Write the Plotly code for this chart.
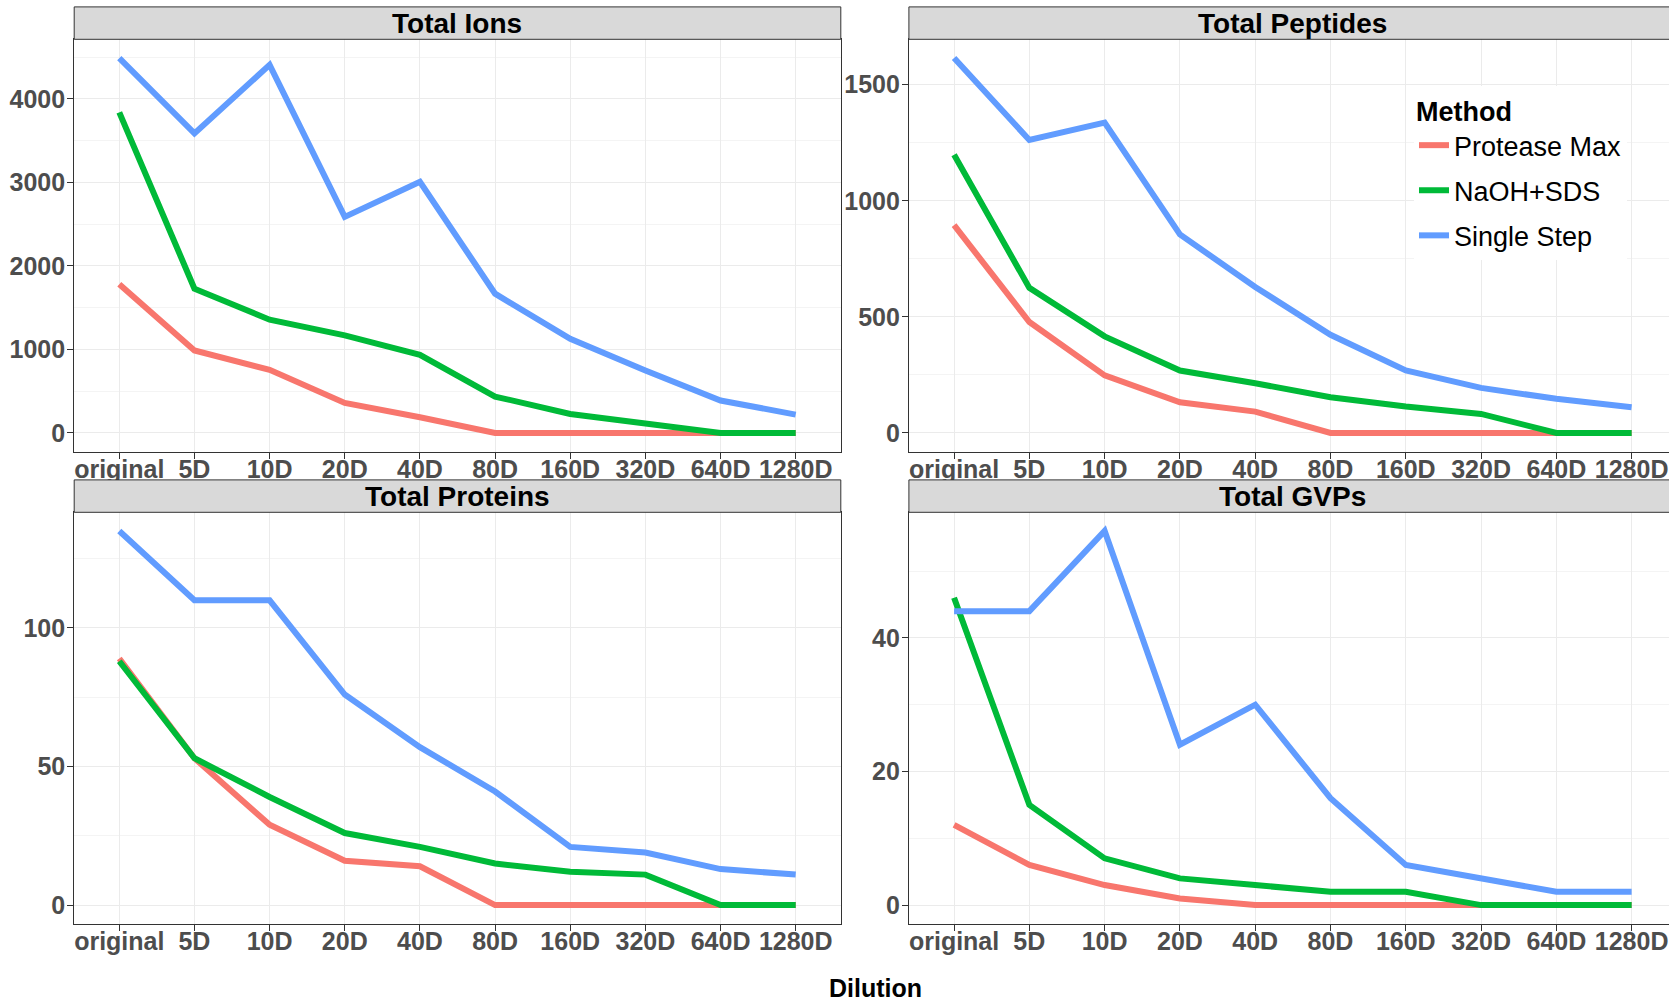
import plotly.graph_objects as go

W, H = 1669, 1001

dilutions = ["original", "5D", "10D", "20D", "40D", "80D", "160D", "320D", "640D", "1280D"]
methods = ["Protease Max", "NaOH+SDS", "Single Step"]
colors = ["#F8766D", "#00BA38", "#619CFF"]

ions_protease = [1780, 988, 756, 360, 188, 0, 0, 0, 0, 0]
ions_naoh = [3840, 1728, 1356, 1168, 936, 436, 228, 116, 0, 0]
ions_single = [4490, 3588, 4408, 2588, 3008, 1668, 1128, 748, 388, 220]

pep_protease = [895, 478, 248, 132, 92, 0, 0, 0, 0, 0]
pep_naoh = [1198, 625, 416, 269, 214, 154, 114, 82, 0, 0]
pep_single = [1615, 1262, 1337, 855, 629, 423, 269, 194, 147, 111]

prot_protease = [89, 53, 29, 16, 14, 0, 0, 0, 0, 0]
prot_naoh = [88, 53, 39, 26, 21, 15, 12, 11, 0, 0]
prot_single = [135, 110, 110, 76, 57, 41, 21, 19, 13, 11]

gvp_protease = [12, 6, 3, 1, 0, 0, 0, 0, 0, 0]
gvp_naoh = [46, 15, 7, 4, 3, 2, 2, 0, 0, 0]
gvp_single = [44, 44, 56, 24, 30, 16, 6, 4, 2, 2]

panel_titles = ["Total Ions", "Total Peptides", "Total Proteins", "Total GVPs"]
panel_data = [
    [ions_protease, ions_naoh, ions_single],
    [pep_protease, pep_naoh, pep_single],
    [prot_protease, prot_naoh, prot_single],
    [gvp_protease, gvp_naoh, gvp_single],
]
major_dtick = [1000, 500, 50, 20]

FONT = "Liberation Sans, Arial, sans-serif"

# panel geometry in pixels (left, right, top, bottom); right panels run past the page edge
left_x = (74.2, 840.8)
right_x = (908.9, 1676.8)
top_y = (39.3, 451.7)
bot_y = (512.3, 923.8)
strip_h = 32.4
panels = [(left_x, top_y), (right_x, top_y), (left_x, bot_y), (right_x, bot_y)]

fig = go.Figure()

for i, (series, title) in enumerate(zip(panel_data, panel_titles)):
    ax = "" if i == 0 else str(i + 1)
    for m, vals, col in zip(methods, series, colors):
        fig.add_trace(go.Scatter(
            x=dilutions, y=vals, mode="lines", name=m,
            line=dict(color=col, width=6),
            xaxis="x" + ax, yaxis="y" + ax,
            legendgroup=m, showlegend=(i == 0),
        ))

layout = dict(
    width=W, height=H,
    margin=dict(l=0, r=0, t=0, b=0),
    paper_bgcolor="white", plot_bgcolor="white",
    font=dict(family=FONT, color="#000000"),
    shapes=[], annotations=[],
)

TICKFONT = dict(family=FONT, size=25, color="#4D4D4D", weight="bold")

for i, ((xs, ys), series) in enumerate(zip(panels, panel_data)):
    ax = "" if i == 0 else str(i + 1)
    x0 = xs[0] / W
    x1 = min(xs[1], W) / W
    step = (xs[1] - xs[0]) / 10.2
    xmax = 9 + (min(xs[1], W) - (xs[0] + 0.6 * step + 9 * step)) / step
    allv = [v for s in series for v in s]
    lo, hi = min(allv), max(allv)
    span = hi - lo
    yr = [lo - 0.05 * span, hi + 0.05 * span]
    y0 = 1 - ys[1] / H
    y1 = 1 - ys[0] / H
    is_right = i in (1, 3)
    layout["xaxis" + ax] = dict(
        domain=[x0, x1], anchor="y" + ax, type="category",
        categoryorder="array", categoryarray=dilutions,
        range=[-0.6, xmax], showgrid=True, gridcolor="#EBEBEB", gridwidth=1,
        ticks="outside", ticklen=6, tickcolor="#333333", tickwidth=1,
        ticklabelstandoff=-11,
        showline=True, linecolor="#333333", linewidth=1, mirror=True,
        tickfont=TICKFONT,
        automargin=False, fixedrange=True, zeroline=False,
    )
    layout["yaxis" + ax] = dict(
        domain=[y0, y1], anchor="x" + ax, range=yr,
        tickmode="linear", tick0=0, dtick=major_dtick[i],
        minor=dict(dtick=major_dtick[i] / 2, showgrid=True, gridcolor="#F4F4F4", gridwidth=1),
        showgrid=True, gridcolor="#EBEBEB", gridwidth=1,
        ticks="outside", ticklen=6, tickcolor="#333333", tickwidth=1,
        ticklabelstandoff=-3,
        showline=True, linecolor="#333333", linewidth=1, mirror=not is_right,
        tickfont=TICKFONT,
        automargin=False, fixedrange=True, zeroline=False,
    )
    # facet strip
    layout["shapes"].append(dict(
        type="rect", xref="paper", yref="paper",
        x0=xs[0] / W, x1=xs[1] / W,
        y0=1 - ys[0] / H, y1=1 - (ys[0] - strip_h) / H,
        fillcolor="#D9D9D9", line=dict(color="#333333", width=1), layer="above",
    ))
    layout["annotations"].append(dict(
        text=panel_titles[i], xref="paper", yref="paper",
        x=(xs[0] + xs[1]) / 2 / W, y=1 - (ys[0] - strip_h / 2) / H,
        xanchor="center", yanchor="middle", showarrow=False,
        font=dict(family=FONT, size=28, color="#000000", weight="bold"),
    ))

layout["annotations"].append(dict(
    text="Dilution", xref="paper", yref="paper",
    x=875 / W, y=1 - 988 / H, xanchor="center", yanchor="middle", showarrow=False,
    font=dict(family=FONT, size=25, color="#000000", weight="bold"),
))

layout["legend"] = dict(
    x=1414 / W, y=1 - 86 / H, xanchor="left", yanchor="top",
    bgcolor="white", borderwidth=0,
    font=dict(family=FONT, size=27, color="#000000"),
    title=dict(text="Method", font=dict(family=FONT, size=27, color="#000000", weight="bold")),
    tracegroupgap=7, itemwidth=30, traceorder="grouped",
)

fig.update_layout(**layout)
fig.write_html(
    "out.html",
    config={"displayModeBar": False},
    post_script="document.body.style.margin='0';document.body.style.overflow='hidden';",
)
